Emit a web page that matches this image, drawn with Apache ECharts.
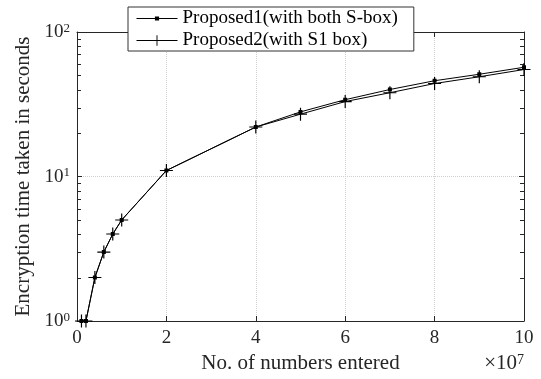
<!DOCTYPE html>
<html><head><meta charset="utf-8">
<script src="https://cdn.jsdelivr.net/npm/echarts@6/dist/echarts.min.js"></script>
<style>html,body{margin:0;padding:0;background:#fff}#c{width:541px;height:379px}</style>
</head><body><div id="c"></div>
<script>
const xValues = [1e6, 2e6, 4e6, 6e6, 8e6, 1e7, 2e7, 4e7, 5e7, 6e7, 7e7, 8e7, 9e7, 1e8];
const proposed1 = [1, 1, 2, 3, 4, 5, 11, 22, 28, 34, 40, 46, 51, 57];
const proposed2 = [1, 1, 2, 3, 4, 5, 11, 22, 27, 33, 38, 44, 49, 55];
const seriesNames = ['Proposed1(with both S-box)', 'Proposed2(with S1 box)'];
const xTickLabels = ['0', '2', '4', '6', '8', '10'];
const yMinorTicks = [2, 3, 4, 5, 6, 7, 8, 9, 20, 30, 40, 50, 60, 70, 80, 90];

const FONT = 'Liberation Serif';
const TXT = '#262626';
const AX = '#262626';
// plus marker
const plusPath = 'path://M-0.09,-1L0.09,-1L0.09,-0.09L1,-0.09L1,0.09L0.09,0.09L0.09,1L-0.09,1L-0.09,0.09L-1,0.09L-1,-0.09L-0.09,-0.09Z';
// small square "point" marker within a larger (empty) bounding box
const dotPath = 'path://M-1,-1L-1,-1Z M1,1L1,1Z M-0.4,-0.4L0.4,-0.4L0.4,0.4L-0.4,0.4Z';

const chart = echarts.init(document.getElementById('c'), null, {renderer: 'canvas'});
const xCommon = {type: 'value', min: 0, max: 1e8, interval: 2e7};
const yCommon = {type: 'log', min: 1, max: 100, logBase: 10};
chart.setOption({
  animation: false,
  backgroundColor: '#fff',
  grid: {left: 77, right: 17, top: 32, bottom: 58, containLabel: false},
  legend: {
    data: seriesNames, orient: 'vertical', left: 128, top: 7,
    itemWidth: 41, itemHeight: 13, itemGap: 3, padding: [2, 16, 1, 8],
    backgroundColor: '#fff', borderColor: '#333', borderWidth: 1, borderRadius: 0,
    lineStyle: {width: 1},
    textStyle: {fontFamily: FONT, fontSize: 19, color: '#000'}
  },
  xAxis: [
    Object.assign({}, xCommon, {
      position: 'bottom',
      name: 'No. of numbers entered', nameLocation: 'middle', nameGap: 25,
      nameTextStyle: {fontFamily: FONT, fontSize: 21, color: TXT},
      axisLine: {show: true, onZero: false, lineStyle: {color: AX, width: 1}},
      axisTick: {show: true, inside: true, length: 5, lineStyle: {color: AX}},
      axisLabel: {fontFamily: FONT, fontSize: 19, color: TXT, margin: 8,
        formatter: v => xTickLabels[Math.round(v / 2e7)]},
      splitLine: {show: true, lineStyle: {type: 'dotted', color: '#cfcfcf', width: 1}}
    }),
    Object.assign({}, xCommon, {
      position: 'top',
      axisLine: {show: true, onZero: false, lineStyle: {color: AX, width: 1}},
      axisTick: {show: true, inside: true, length: 5, lineStyle: {color: AX}},
      axisLabel: {show: false}, splitLine: {show: false}
    })
  ],
  yAxis: [
    Object.assign({}, yCommon, {
      position: 'left',
      name: 'Encryption time taken in seconds', nameLocation: 'middle', nameGap: 40, nameRotate: 90,
      nameTextStyle: {fontFamily: FONT, fontSize: 21, color: TXT},
      axisLine: {show: true, onZero: false, lineStyle: {color: AX, width: 1}},
      axisTick: {show: true, inside: true, length: 5, lineStyle: {color: AX}},
      axisLabel: {margin: 7, formatter: v => '{b|10}{s|' + Math.round(Math.log10(v)) + '}',
        rich: {
          b: {fontFamily: FONT, fontSize: 19, color: TXT, verticalAlign: 'bottom', lineHeight: 20},
          s: {fontFamily: FONT, fontSize: 13, color: TXT, verticalAlign: 'top', lineHeight: 13}
        }},
      splitLine: {show: true, lineStyle: {type: 'dotted', color: '#cfcfcf', width: 1}}
    }),
    Object.assign({}, yCommon, {
      position: 'right',
      axisLine: {show: true, onZero: false, lineStyle: {color: AX, width: 1}},
      axisTick: {show: true, inside: true, length: 5, lineStyle: {color: AX}},
      axisLabel: {show: false}, splitLine: {show: false}
    })
  ],
  graphic: [{
    type: 'text', right: 17, top: 353,
    style: {text: '{m|×10}{s|7}', rich: {
      m: {fontFamily: FONT, fontSize: 21, fill: TXT, verticalAlign: 'bottom', lineHeight: 21},
      s: {fontFamily: FONT, fontSize: 14, fill: TXT, verticalAlign: 'top', lineHeight: 14}
    }}
  }],
  series: [
    {
      name: seriesNames[0], type: 'line', xAxisIndex: 0, yAxisIndex: 0, clip: false,
      data: xValues.map((x, i) => [x, proposed1[i]]),
      symbol: dotPath, symbolSize: 10, showAllSymbol: true,
      lineStyle: {color: '#000', width: 1}, itemStyle: {color: '#000', borderWidth: 0}, z: 3
    },
    {
      name: seriesNames[1], type: 'line', xAxisIndex: 0, yAxisIndex: 0, clip: false,
      data: xValues.map((x, i) => [x, proposed2[i]]),
      symbol: plusPath, symbolSize: 13, showAllSymbol: true,
      lineStyle: {color: '#000', width: 1}, itemStyle: {color: '#000', borderWidth: 0}, z: 3
    },
    {
      type: 'custom', silent: true, xAxisIndex: 0, yAxisIndex: 0, clip: false,
      data: yMinorTicks.map(v => [0, v]),
      renderItem: function (params, api) {
        const v = api.value(1);
        const l = api.coord([0, v]);
        const r = api.coord([1e8, v]);
        const y = Math.round(l[1]) + 0.5;
        return {type: 'group', children: [
          {type: 'line', shape: {x1: l[0], y1: y, x2: l[0] + 4, y2: y}, style: {stroke: AX, lineWidth: 1}},
          {type: 'line', shape: {x1: r[0] - 4, y1: y, x2: r[0], y2: y}, style: {stroke: AX, lineWidth: 1}}
        ]};
      }
    }
  ]
});
</script></body></html>
